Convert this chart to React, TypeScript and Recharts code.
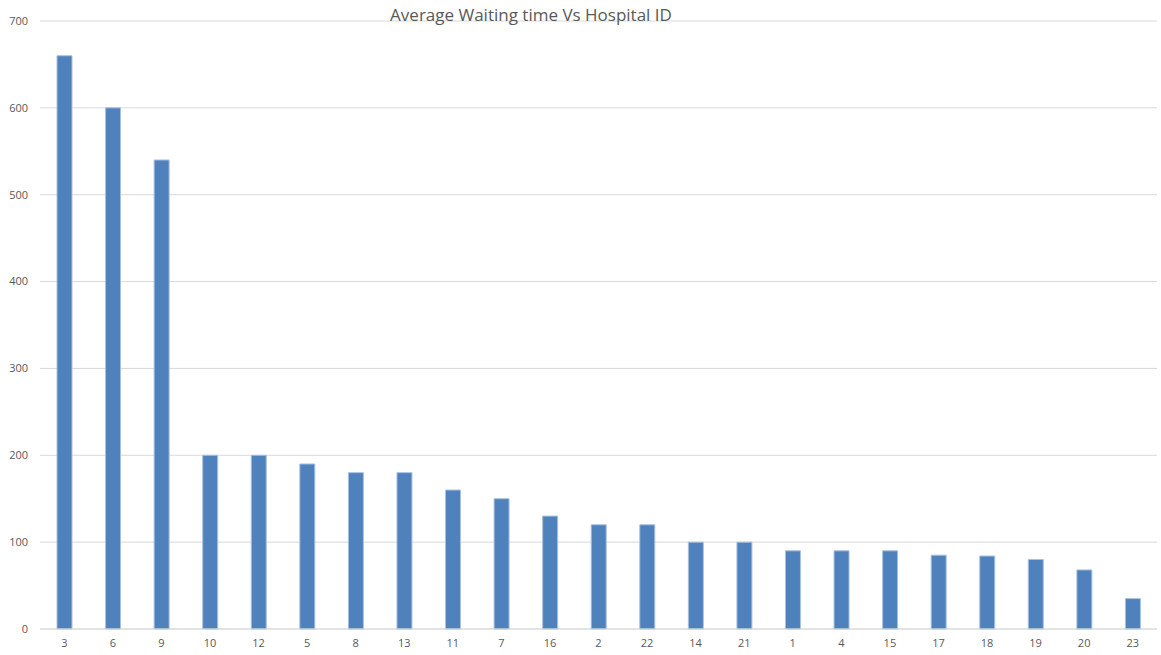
import React from 'react'
import { BarChart, Bar, XAxis, YAxis, CartesianGrid } from 'recharts'

// hospital ids, sorted by average waiting time
const hospitalIds = [
  '3', '6', '9', '10', '12', '5', '8', '13', '11', '7', '16', '2',
  '22', '14', '21', '1', '4', '15', '17', '18', '19', '20', '23',
]
const avgWaiting = [
  660, 600, 540, 200, 200, 190, 180, 180, 160, 150, 130, 120,
  120, 100, 100, 90, 90, 90, 85, 84, 80, 68, 35,
]
const yTicks = [0, 100, 200, 300, 400, 500, 600, 700]

const data = hospitalIds.map((id, i) => ({ id, value: avgWaiting[i] }))

const tickStyle = { fontSize: 11, fill: '#595959', fontFamily: '"Open Sans", sans-serif' }

export default function App() {
  return (
    <div style={{ position: 'absolute', left: 0, top: 0, width: 1161, height: 655, background: '#fff' }}>
      <div
        style={{
          position: 'absolute',
          left: 0,
          width: 1062,
          top: 3,
          textAlign: 'center',
          fontFamily: '"Open Sans", sans-serif',
          fontSize: 17,
          color: '#595959',
          zIndex: 1,
        }}
      >
        Average Waiting time Vs Hospital ID
      </div>
      <BarChart
        width={1161}
        height={655}
        data={data}
        margin={{ top: 21, right: 4, left: 0, bottom: 0 }}
      >
        <CartesianGrid vertical={false} stroke="#d9d9d9" />
        <XAxis
          dataKey="id"
          height={26}
          interval={0}
          tickLine={false}
          tickSize={0}
          tickMargin={10}
          stroke="#d9d9d9"
          tick={tickStyle}
        />
        <YAxis
          width={40}
          domain={[0, 700]}
          ticks={yTicks}
          axisLine={false}
          tickLine={false}
          tickSize={0}
          tickMargin={12}
          tick={tickStyle}
        />
        <Bar
          dataKey="value"
          fill="#4f81bd"
          stroke="#a9c1e0"
          strokeWidth={1}
          barSize={15}
          isAnimationActive={false}
        />
      </BarChart>
    </div>
  )
}
